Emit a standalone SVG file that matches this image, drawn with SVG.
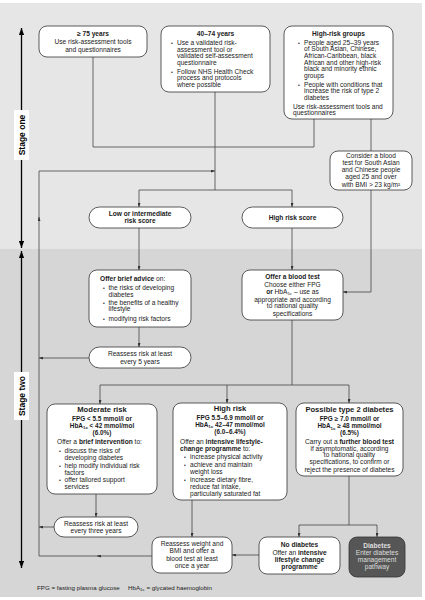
<svg xmlns="http://www.w3.org/2000/svg" width="425" height="600" viewBox="0 0 425 600">
<defs>
<style>
text{font-family:"Liberation Sans",Arial,Helvetica,sans-serif;font-size:6.6px;fill:#1a1a1a}
.c{text-anchor:middle}
.b{font-weight:bold}
.f{font-weight:bold;font-size:6.4px}
.h{font-weight:bold;font-size:7.6px}
.bu{font-size:5px}
.sub{font-size:4.4px}
.box{fill:#fff;stroke:#333;stroke-width:0.8}
.dark{fill:#565656;stroke:#333;stroke-width:0.8}
.dt{fill:#dedede}
.ln{fill:none;stroke:#444;stroke-width:0.8}
.ar{marker-end:url(#a)}
.stage{fill:none;stroke:#000;stroke-width:1.3;marker-end:url(#s)}
.sl{font-weight:bold;font-size:8.5px;fill:#000}
.lab{fill:#fff}
</style>
<marker id="a" viewBox="0 0 8 6" refX="8" refY="3" markerWidth="4" markerHeight="3" markerUnits="userSpaceOnUse" orient="auto"><path d="M0,0 L8,3 L0,6 z" fill="#333"/></marker>
<marker id="s" viewBox="0 0 8 6" refX="8" refY="3" markerWidth="7" markerHeight="5.25" markerUnits="userSpaceOnUse" orient="auto"><path d="M0,0 L8,3 L0,6 z" fill="#000"/></marker>
</defs>

<g id="background">
<rect x="0" y="0" width="425" height="600" fill="#fff"/>
<rect x="0" y="3" width="422" height="246" fill="#e6e6e6"/>
<rect x="0" y="249" width="422" height="348" fill="#d6d6d6"/>
</g>

<g id="stages">
<path class="stage" d="M21.5,110 V28"/>
<path class="stage" d="M21.5,160 V248"/>
<rect class="lab" x="14" y="110" width="15" height="50"/>
<text class="sl c" transform="translate(24.5,135) rotate(-90)">Stage one</text>
<path class="stage" d="M21.5,372 V251"/>
<path class="stage" d="M21.5,420 V568"/>
<rect class="lab" x="14" y="372" width="15" height="48"/>
<text class="sl c" transform="translate(24.5,396) rotate(-90)">Stage two</text>
</g>

<g id="connectors">
<path class="ln" d="M93,57 V147 H314"/>
<path class="ln" d="M314,119 V147"/>
<path class="ln" d="M215,92 V190"/>
<path class="ln" d="M139,190 H292"/>
<path class="ln ar" d="M139,190 V207"/>
<path class="ln ar" d="M292,190 V207"/>
<path class="ln" d="M371,119 V151"/>
<path class="ln ar" d="M371,190 V292 H343"/>
<path class="ln ar" d="M39,556 V217"/>
<path class="ln ar" d="M39,219 V171 H215"/>
<path class="ln ar" d="M139,228 V270"/>
<path class="ln ar" d="M139,327 V347"/>
<path class="ln ar" d="M89,358 H39"/>
<path class="ln ar" d="M292,228 V270"/>
<path class="ln" d="M292,320 V385"/>
<path class="ln" d="M100,385 H349"/>
<path class="ln ar" d="M100,385 V404"/>
<path class="ln ar" d="M227,385 V403"/>
<path class="ln ar" d="M349,385 V403"/>
<path class="ln ar" d="M96,494 V517"/>
<path class="ln ar" d="M54,527 H39"/>
<path class="ln ar" d="M192,500 V537"/>
<path class="ln ar" d="M152,556 H97"/>
<path class="ln" d="M99,556 H39"/>
<path class="ln" d="M349,476 V525"/>
<path class="ln" d="M299,525 H377"/>
<path class="ln ar" d="M299,525 V537"/>
<path class="ln ar" d="M377,525 V537"/>
<path class="ln ar" d="M259,555 H232"/>
</g>

<g id="n-75">
<rect class="box" x="39" y="26" width="108" height="31" rx="8"/>
<text class="c b" x="93" y="35.8">≥ 75 years</text>
<text class="c" x="93" y="44.3">Use risk-assessment tools</text>
<text class="c" x="93" y="52">and questionnaires</text>
</g>

<g id="n-40-74">
<rect class="box" x="161" y="26" width="109" height="66" rx="8"/>
<text class="c b" x="215.5" y="36">40–74 years</text>
<text class="bu" x="171" y="45">•</text>
<text class="bu" x="171" y="73.6">•</text>
<text x="177" y="45">Use a validated risk-</text>
<text x="177" y="51.6">assessment tool or</text>
<text x="177" y="58.2">validated self-assessment</text>
<text x="177" y="64.8">questionnaire</text>
<text x="177" y="73.6">Follow NHS Health Check</text>
<text x="177" y="80.2">process and protocols</text>
<text x="177" y="86.8">where possible</text>
</g>

<g id="n-high-risk-groups">
<rect class="box" x="284" y="26" width="109" height="93" rx="8"/>
<text class="c b" x="338.5" y="35.6">High-risk groups</text>
<text class="bu" x="298" y="44.6">•</text>
<text class="bu" x="298" y="86.6">•</text>
<text x="304" y="44.6">People aged 25–39 years</text>
<text x="304" y="51.3">of South Asian, Chinese,</text>
<text x="304" y="58">African-Caribbean, black</text>
<text x="304" y="64.7">African and other high-risk</text>
<text x="304" y="71.4">black and minority ethnic</text>
<text x="304" y="78.1">groups</text>
<text x="304" y="86.6">People with conditions that</text>
<text x="304" y="93.3">increase the risk of type 2</text>
<text x="304" y="100">diabetes</text>
<text x="293" y="108.6">Use risk-assessment tools and</text>
<text x="293" y="115.3">questionnaires</text>
</g>

<g id="n-consider">
<rect class="box" x="330" y="151" width="82" height="39" rx="8"/>
<text class="c" x="371" y="157.8">Consider a blood</text>
<text class="c" x="371" y="165">test for South Asian</text>
<text class="c" x="371" y="172.2">and Chinese people</text>
<text class="c" x="371" y="179.4">aged 25 and over</text>
<text class="c" x="371" y="186.6">with BMI &gt; 23 kg/m²</text>
</g>

<g id="n-low">
<rect class="box" x="89" y="207" width="102" height="21" rx="10.5"/>
<text class="c b" x="140" y="215.6">Low or intermediate</text>
<text class="c b" x="140" y="223.2">risk score</text>
</g>

<g id="n-high-score">
<rect class="box" x="242" y="207" width="101" height="21" rx="10.5"/>
<text class="c b" x="292.5" y="219.6">High risk score</text>
</g>

<g id="n-advice">
<rect class="box" x="89" y="270" width="102" height="57" rx="8"/>
<text x="100" y="281.3"><tspan class="b">Offer brief advice</tspan> on:</text>
<text class="bu" x="103" y="290">•</text>
<text class="bu" x="103" y="304.6">•</text>
<text class="bu" x="103" y="320.6">•</text>
<text x="108.5" y="290">the risks of developing</text>
<text x="108.5" y="296.6">diabetes</text>
<text x="108.5" y="304.6">the benefits of a healthy</text>
<text x="108.5" y="311.3">lifestyle</text>
<text x="108.5" y="320.6">modifying risk factors</text>
</g>

<g id="n-reassess-5">
<rect class="box" x="89" y="347" width="102" height="21" rx="10.5"/>
<text class="c" x="140" y="356.4">Reassess risk at least</text>
<text class="c" x="140" y="363.6">every 5 years</text>
</g>

<g id="n-blood-test">
<rect class="box" x="242" y="270" width="101" height="50" rx="8"/>
<text class="c b" x="292.5" y="279">Offer a blood test</text>
<text class="c" x="292.5" y="287.3">Choose either FPG</text>
<text class="c" x="292.5" y="294"><tspan class="b">or</tspan> HbA<tspan class="sub" dy="1.4">1c</tspan><tspan dy="-1.4"> – use as</tspan></text>
<text class="c" x="292.5" y="301.6">appropriate and according</text>
<text class="c" x="292.5" y="308.3">to national quality</text>
<text class="c" x="292.5" y="315.6">specifications</text>
</g>

<g id="n-moderate">
<rect class="box" x="47" y="404" width="110" height="90" rx="8"/>
<text class="c h" x="102" y="412">Moderate risk</text>
<text class="c f" x="102" y="420.5">FPG &lt; 5.5 mmol/l or</text>
<text class="c f" x="102" y="427.8">HbA<tspan class="sub" dy="1.4">1c</tspan><tspan dy="-1.4"> &lt; 42 mmol/mol</tspan></text>
<text class="c f" x="102" y="434.8">(6.0%)</text>
<text x="57" y="444">Offer a <tspan class="b">brief intervention</tspan> to:</text>
<text class="bu" x="59" y="453">•</text>
<text class="bu" x="59" y="467.6">•</text>
<text class="bu" x="59" y="482.3">•</text>
<text x="64.5" y="453">discuss the risks of</text>
<text x="64.5" y="460">developing diabetes</text>
<text x="64.5" y="467.6">help modify individual risk</text>
<text x="64.5" y="474.6">factors</text>
<text x="64.5" y="482.3">offer tailored support</text>
<text x="64.5" y="489">services</text>
</g>

<g id="n-high">
<rect class="box" x="173" y="403" width="114" height="97" rx="8"/>
<text class="c h" x="230" y="411">High risk</text>
<text class="c f" x="230" y="419.5">FPG 5.5–6.9 mmol/l or</text>
<text class="c f" x="230" y="426.8">HbA<tspan class="sub" dy="1.4">1c</tspan><tspan dy="-1.4"> 42–47 mmol/mol</tspan></text>
<text class="c f" x="230" y="433.8">(6.0–6.4%)</text>
<text x="180" y="443.8">Offer an <tspan class="b">intensive lifestyle-</tspan></text>
<text x="180" y="450.6"><tspan class="b">change programme</tspan> to:</text>
<text class="bu" x="184" y="458.5">•</text>
<text class="bu" x="184" y="467.3">•</text>
<text class="bu" x="184" y="482.3">•</text>
<text x="190" y="458.5">increase physical activity</text>
<text x="190" y="467.3">achieve and maintain</text>
<text x="190" y="474">weight loss</text>
<text x="190" y="482.3">increase dietary fibre,</text>
<text x="190" y="489">reduce fat intake,</text>
<text x="190" y="495.7">particularly saturated fat</text>
</g>

<g id="n-possible">
<rect class="box" x="296" y="403" width="107" height="73" rx="8"/>
<text class="c h" x="349.5" y="411.5">Possible type 2 diabetes</text>
<text class="c f" x="349.5" y="421">FPG ≥ 7.0 mmol/l or</text>
<text class="c f" x="349.5" y="428.3">HbA<tspan class="sub" dy="1.4">1c</tspan><tspan dy="-1.4"> ≥ 48 mmol/mol</tspan></text>
<text class="c f" x="349.5" y="435.3">(6.5%)</text>
<text class="c" x="349.5" y="444">Carry out a <tspan class="b">further blood test</tspan></text>
<text class="c" x="349.5" y="450.6">if asymptomatic, according</text>
<text class="c" x="349.5" y="457.3">to national quality</text>
<text class="c" x="349.5" y="464.3">specifications, to confirm or</text>
<text class="c" x="349.5" y="471.6">reject the presence of diabetes</text>
</g>

<g id="n-reassess-3">
<rect class="box" x="54" y="517" width="84" height="20" rx="10"/>
<text class="c" x="96" y="525.6">Reassess risk at least</text>
<text class="c" x="96" y="532.8">every three years</text>
</g>

<g id="n-reassess-weight">
<rect class="box" x="152" y="537" width="80" height="36" rx="8"/>
<text class="c" x="192" y="545.6">Reassess weight and</text>
<text class="c" x="192" y="553">BMI and offer a</text>
<text class="c" x="192" y="560.5">blood test at least</text>
<text class="c" x="192" y="568">once a year</text>
</g>

<g id="n-no-diabetes">
<rect class="box" x="259" y="537" width="81" height="37" rx="8"/>
<text class="c b" x="299.5" y="547.3">No diabetes</text>
<text class="c" x="299.5" y="554.6">Offer an <tspan class="b">intensive</tspan></text>
<text class="c b" x="299.5" y="561.8">lifestyle change</text>
<text class="c b" x="299.5" y="568.6">programme</text>
</g>

<g id="n-diabetes">
<rect class="dark" x="349" y="537" width="56" height="40" rx="8"/>
<text class="c b dt" x="377" y="547.6">Diabetes</text>
<text class="c dt" x="377" y="555">Enter diabetes</text>
<text class="c dt" x="377" y="562.2">management</text>
<text class="c dt" x="377" y="569.4">pathway</text>
</g>

<g id="footer">
<text x="37" y="589.5" style="font-size:6.2px">FPG = fasting plasma glucose</text>
<text x="128" y="589.5" style="font-size:6.2px">HbA<tspan class="sub" dy="1.4">1c</tspan><tspan dy="-1.4"> = glycated haemoglobin</tspan></text>
</g>
</svg>
